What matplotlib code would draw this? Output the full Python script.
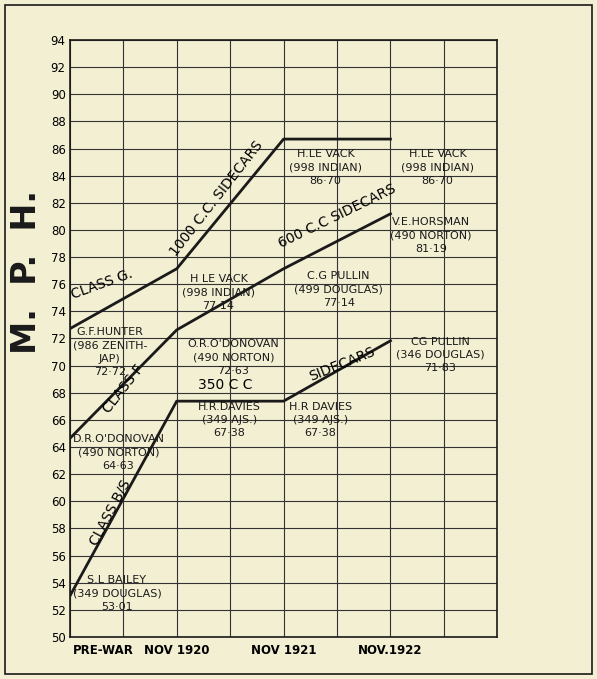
import matplotlib
matplotlib.use("Agg")
import matplotlib.pyplot as plt

# données
periods = ["PRE-WAR", "NOV 1920", "NOV 1921", "NOV.1922"]
x_pos = [0, 2, 4, 6]
class_g = [72.72, 77.14, 86.70, 86.70]
class_f = [64.63, 72.63, 77.14, 81.19]
class_bs = [53.01, 67.38, 67.38, 71.83]
y_ticks = list(range(50, 96, 2))

paper = "#f3efd3"
ink = "#1a1a1a"

fig = plt.figure(figsize=(5.97, 6.79), dpi=100, facecolor=paper)
fig.patches.append(plt.Rectangle((0.008, 0.008), 0.984, 0.984, transform=fig.transFigure,
                                 fill=False, edgecolor=ink, lw=1.2))
ax = fig.add_axes([0.117, 0.062, 0.716, 0.879])
ax.set_facecolor(paper)

for ys in (class_g, class_f, class_bs):
    ax.plot(x_pos, ys, color=ink, lw=2)

ax.set_xlim(0, 8)
ax.set_ylim(50, 94)
ax.set_xticks(range(0, 9))
ax.set_xticklabels([])
ax.set_yticks(y_ticks)
ax.set_yticklabels([str(v) for v in y_ticks], fontsize=8.5)
ax.tick_params(length=0, pad=3)
ax.grid(True, color="#333333", lw=0.8)
for s in ax.spines.values():
    s.set_color(ink)
    s.set_linewidth(1.2)

# étiquettes de l'axe x
for x, p in zip(x_pos, periods):
    ax.text(x + (0.05 if x == 0 else 0), 49.5, p, fontsize=8.5, fontweight="bold",
            ha="left" if x == 0 else "center", va="top")

fig.text(0.045, 0.6, "M.  P.  H.", rotation=90, fontsize=24, fontweight="bold",
         ha="center", va="center", color=ink)

fs = 8
labels = [
    (0.05, 53.2, "S.L BAILEY\n(349 DOUGLAS)\n53·01"),
    (0.05, 63.6, "D.R.O'DONOVAN\n(490 NORTON)\n64·63"),
    (0.05, 71.0, "G.F.HUNTER\n(986 ZENITH-\nJAP)\n72·72"),
    (2.4, 66.0, "H.R.DAVIES\n(349 AJS.)\n67·38"),
    (4.1, 66.0, "H.R DAVIES\n(349 AJS.)\n67·38"),
    (6.1, 70.8, "CG PULLIN\n(346 DOUGLAS)\n71·83"),
    (2.2, 70.6, "O.R.O'DONOVAN\n(490 NORTON)\n72·63"),
    (2.1, 75.4, "H LE VACK\n(998 INDIAN)\n77·14"),
    (4.2, 75.6, "C.G PULLIN\n(499 DOUGLAS)\n77·14"),
    (6.0, 79.6, "V.E.HORSMAN\n(490 NORTON)\n81·19"),
    (4.1, 84.6, "H.LE VACK\n(998 INDIAN)\n86·70"),
    (6.2, 84.6, "H.LE VACK\n(998 INDIAN)\n86·70"),
]
for x, y, t in labels:
    ax.text(x, y, t, fontsize=fs, ha="left", va="center", color=ink, linespacing=1.4,
            multialignment="center")

ax.text(0.6, 76.0, "CLASS G.", rotation=20, fontsize=10, ha="center", va="center")
ax.text(2.75, 82.3, "1000 C.C. SIDECARS", rotation=52, fontsize=10, ha="center", va="center")
ax.text(1.0, 68.3, "CLASS F", rotation=52, fontsize=10, ha="center", va="center")
ax.text(5.0, 81.0, "600 C.C SIDECARS", rotation=26, fontsize=10, ha="center", va="center")
ax.text(2.9, 68.6, "350 C C", fontsize=10, ha="center", va="center")
ax.text(5.1, 70.1, "SIDECARS", rotation=22, fontsize=10, ha="center", va="center")
ax.text(0.75, 59.2, "CLASS B/S", rotation=62, fontsize=10, ha="center", va="center")

fig.savefig("out.png", dpi=100, facecolor=paper)
